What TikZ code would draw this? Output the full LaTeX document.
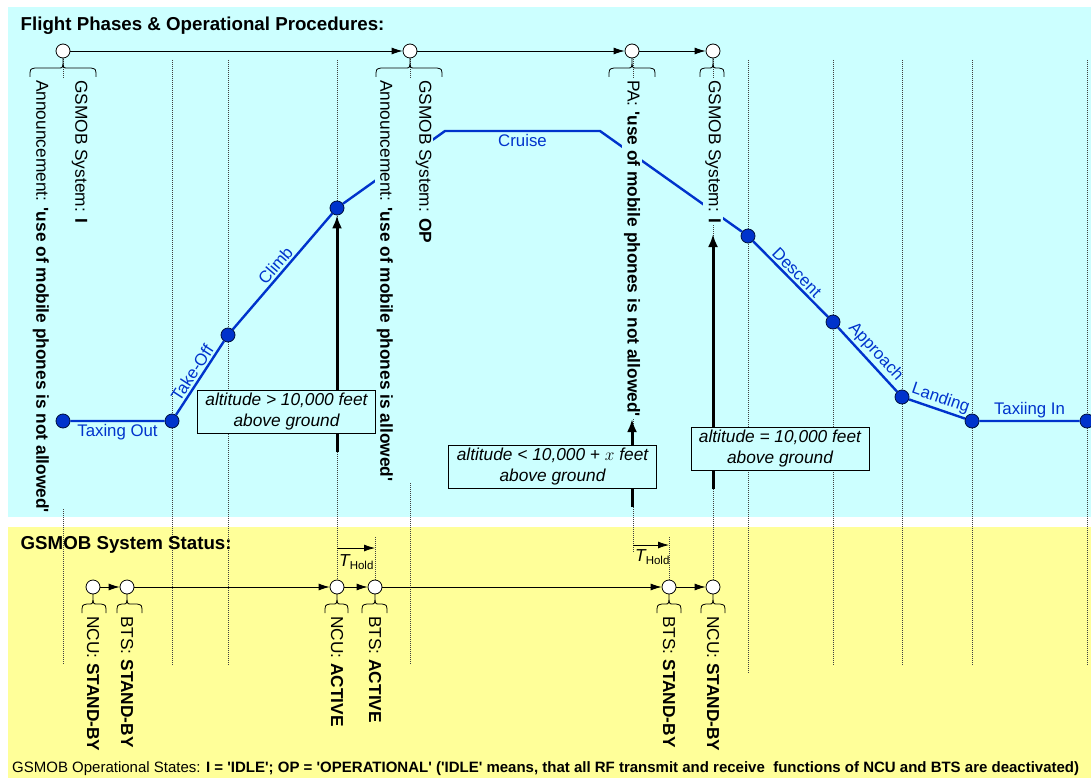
\documentclass[tikz,border=0pt]{standalone}
\usepackage{fontspec}
\setmainfont{Liberation Sans}
\usetikzlibrary{arrows.meta,positioning}
\definecolor{skyback}{HTML}{CCFFFF}
\definecolor{sandback}{HTML}{FFFF99}
\definecolor{profileblue}{HTML}{0033CC}
\newcommand{\qt}{\textquotesingle}
\tikzset{>={Latex[length=11pt,width=7pt]}}
\tikzset{
  station/.style={circle,draw,fill=white,minimum size=14pt,inner sep=0pt,line width=0.8pt},
  fdot/.style={circle,draw=black!70!profileblue,fill=profileblue,minimum size=14pt,inner sep=0pt,line width=0.8pt},
  gridline/.style={black!75,line width=0.7pt,dash pattern=on 1pt off 1pt},
  profile/.style={profileblue,line width=2.4pt},
  phasetag/.style={profileblue,font=\fontsize{16.8}{20}\selectfont,inner sep=2pt},
  flow/.style={->,line width=0.8pt},
  condarrow/.style={-{Latex[length=13pt,width=10pt]},line width=3pt},
  condbox/.style={draw,fill=skyback,line width=0.8pt,align=center,inner xsep=8pt,inner ysep=3pt,font=\itshape\fontsize{17.3}{21}\selectfont},
  vtext/.style={rotate=-90,anchor=west,align=left,inner sep=2pt,font=\fontsize{17.3}{39}\selectfont},
  holdtag/.style={anchor=base west,inner sep=0pt,font=\fontsize{17.3}{20}\selectfont},
  pics/capbrace/.style 2 args={code={
    \draw[line width=0.8pt] (-#1,26) .. controls (-#1,18) .. (-#1+5,17) -- (-4,17) .. controls (0,17) .. (0,7)
      .. controls (0,17) .. (4,17) -- (#2-5,17) .. controls (#2,18) .. (#2,26);}},
}

\begin{document}
\begin{tikzpicture}[x=1pt,y=-1pt]
\useasboundingbox (0,0) rectangle (1091,778);

% Panels
\fill[skyback] (8,7) rectangle (1091,517);
\fill[sandback] (8,527) rectangle (1091,778);

% Grid
\foreach \gx/\gtop/\gbot in {63/51/78, 63/509/665, 172/60/665, 228/60/665, 337/60/587,
  375/537/587, 410/51/665, 633/51/553, 669/537/587, 713/51/587, 748/60/673,
  833/60/665, 902/60/665, 972/60/665, 1087/60/665}
  \draw[gridline] (\gx,\gtop) -- (\gx,\gbot);

% Flight profile
\node[fdot] (gateout) at (63,421) {};
\node[fdot] (rollstart) at (172,421) {};
\node[fdot] (liftoff) at (228,335) {};
\node[fdot] (climbdot) at (337,208) {};
\coordinate (cruisein) at (445,131);
\coordinate (cruiseout) at (600,131);
\node[fdot] (descdot) at (748,236) {};
\node[fdot] (apprdot) at (833,322) {};
\node[fdot] (flaredot) at (902,397) {};
\node[fdot] (touchdot) at (972,421) {};
\node[fdot] (gatein) at (1087,421) {};

\draw[profile] (gateout) -- node[phasetag,below] {Taxing Out} (rollstart)
  -- node[phasetag,sloped,above] {Take-Off} (liftoff)
  -- node[phasetag,sloped,above] {Climb} (climbdot)
  -- (cruisein) -- node[phasetag,below] {Cruise} (cruiseout)
  -- (descdot) -- node[phasetag,sloped,above] {Descent} (apprdot)
  -- node[phasetag,sloped,above] {Approach} (flaredot)
  -- node[phasetag,sloped,above] {Landing} (touchdot)
  -- node[phasetag,above] {Taxiing In} (gatein);

% Procedures
\node[vtext] (annAtext) at (60,78) {GSMOB System: \textbf{I}\\Announcement: \textbf{\qt use of mobile phones is not allowed\qt}};
\node[vtext,fill=skyback] (annBtext) at (404,78) {GSMOB System: \textbf{OP}\\Announcement: \textbf{\qt use of mobile phones is allowed\qt}};
\node[vtext,fill=skyback] (patext) at (632,78) {PA: \textbf{\qt use of mobile phones is not allowed\qt}};
\node[vtext,fill=skyback] (sysDtext) at (713,78) {GSMOB System: \textbf{I}};

\node[station] (annA) at (63,51) {};
\node[station] (annB) at (410,51) {};
\node[station] (paC) at (632,51) {};
\node[station] (sysD) at (713,51) {};
\pic at (annA) {capbrace={33}{33}};
\pic at (annB) {capbrace={34}{32}};
\pic at (paC) {capbrace={23}{23}};
\pic at (sysD) {capbrace={13}{11}};
\draw[flow] (annA) -- (annB);
\draw[flow] (annB) -- (paC);
\draw[flow] (paC) -- (sysD);

% Altitude conditions
\coordinate (climbcheck) at (337,452);
\draw[condarrow] (climbcheck) -- (climbdot);
\node[condbox] (climbbox) at (286.5,411.5) {altitude > 10,000 feet\\above ground};

\coordinate (desccheck) at (632,507);
\draw[condarrow] (desccheck) -- (patext.east);
\node[condbox] (descbox) at (552.5,467) {altitude < 10,000 + $x$ feet\\above ground};

\coordinate (idlecheck) at (713,489);
\coordinate (idletip) at (713,234);
\draw[condarrow] (idlecheck) -- (idletip);
\node[condbox] (idlebox) at (780,448.5) {altitude = 10,000 feet\\above ground};

% System status
\node[station] (ncuoff) at (93,587) {};
\node[station] (btsoff) at (127,587) {};
\node[station] (ncuon) at (337,587) {};
\node[station] (btson) at (375,587) {};
\node[station] (btsidle) at (669,587) {};
\node[station] (ncuidle) at (713,587) {};
\pic at (ncuoff) {capbrace={11}{13}};
\pic at (btsoff) {capbrace={10}{15}};
\pic at (ncuon) {capbrace={12}{11}};
\pic at (btson) {capbrace={13}{12}};
\pic at (btsidle) {capbrace={12}{12}};
\pic at (ncuidle) {capbrace={12}{12}};
\draw[flow] (ncuoff) -- (btsoff);
\draw[flow] (btsoff) -- (ncuon);
\draw[flow] (ncuon) -- (btson);
\draw[flow] (btson) -- (btsidle);
\draw[flow] (btsidle) -- (ncuidle);

\node[vtext] (ncuofftext) at (93,614) {NCU: \textbf{STAND-BY}};
\node[vtext] (btsofftext) at (127,614) {BTS: \textbf{STAND-BY}};
\node[vtext] (ncuontext) at (337,614) {NCU: \textbf{ACTIVE}};
\node[vtext] (btsontext) at (375,614) {BTS: \textbf{ACTIVE}};
\node[vtext] (btsidletext) at (669,614) {BTS: \textbf{STAND-BY}};
\node[vtext] (ncuidletext) at (713,614) {NCU: \textbf{STAND-BY}};

% Hold times
\coordinate (holdAstart) at (337,548);
\coordinate (holdAend) at (375,548);
\draw[flow] (holdAstart) -- (holdAend);
\node[holdtag] (holdAtag) at (339,566.5) {\itshape T\upshape\raisebox{-3pt}{\fontsize{11.5}{13}\selectfont Hold}};
\coordinate (holdBstart) at (633,545);
\coordinate (holdBend) at (669,545);
\draw[flow] (holdBstart) -- (holdBend);
\node[holdtag] (holdBtag) at (635,561) {\itshape T\upshape\raisebox{-3pt}{\fontsize{11.5}{13}\selectfont Hold}};

% Titles
\node[anchor=base west,inner sep=0pt,font=\bfseries\fontsize{18.7}{22}\selectfont] (flighttitle) at (20.5,30.7) {Flight Phases \& Operational Procedures:};
\node[anchor=base west,inner sep=0pt,font=\bfseries\fontsize{18.7}{22}\selectfont] (statustitle) at (20.5,549.5) {GSMOB System Status:};
\node[anchor=base west,inner sep=0pt,font=\fontsize{15}{17}\selectfont] (legend) at (12,772) {GSMOB Operational States: \textbf{I = \qt IDLE\qt; OP = \qt OPERATIONAL\qt\ (\qt IDLE\qt\ means, that all RF transmit and receive\ \ functions of NCU and BTS are deactivated)}};

\end{tikzpicture}
\end{document}
